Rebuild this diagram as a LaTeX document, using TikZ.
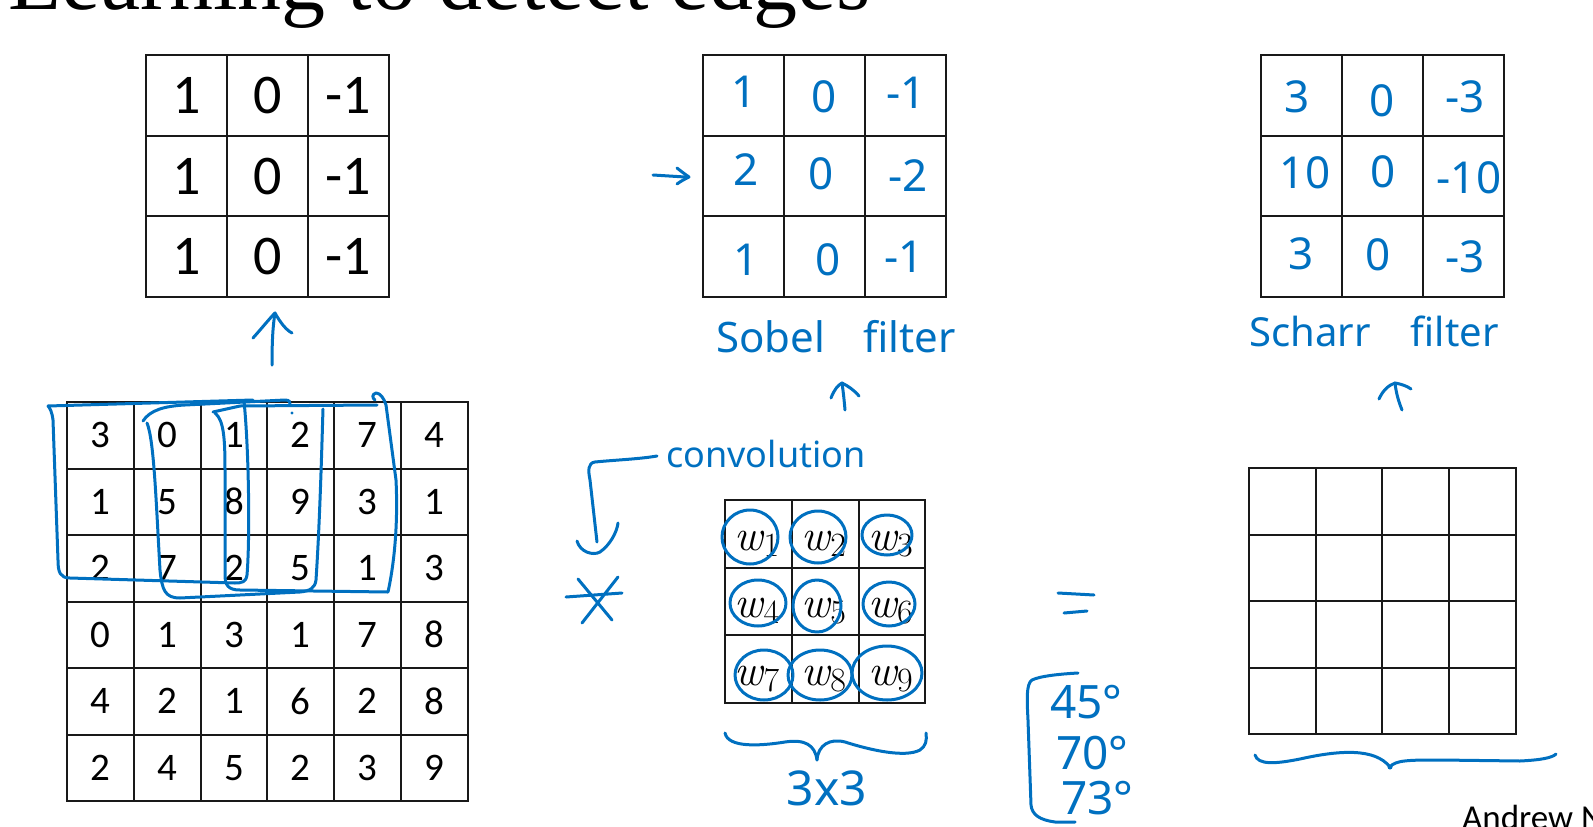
\documentclass[tikz,border=0pt]{standalone}
\usepackage{fontspec}
\setmainfont{Latin Modern Roman}
\newfontfamily\calibri{Carlito}
\newfontfamily\handf{Noto Sans}
\newfontfamily\titlef{Liberation Serif}
\definecolor{pen}{RGB}{0,112,192}
\begin{document}
\begin{tikzpicture}[x=1pt,y=-1pt,
  cellline/.style={line width=2pt, black!90, line cap=rect},
  hand/.style={draw=pen, line width=3pt, line cap=round, line join=round},
  bignum/.style={font=\calibri\fontsize{56}{60}\selectfont, inner sep=0pt},
  num/.style={font=\calibri\fontsize{39}{42}\selectfont, inner sep=0pt},
  hnum/.style={text=pen, font=\handf\fontsize{44}{48}\selectfont, inner sep=0pt},
  htext/.style={text=pen, inner sep=0pt},
  wlab/.style={font=\fontsize{44}{48}\selectfont\itshape, inner sep=0pt}
]
\useasboundingbox (0,0) rectangle (1593,827);
\clip (0,0) rectangle (1593,827);

% title (cut by the top edge)
\node[anchor=base west, font=\titlef\fontsize{88}{90}\selectfont, inner sep=0pt] (title) at (8,9.5) {Learning to detect edges};
% footer (cut)
\node[anchor=base west, font=\calibri\fontsize{35}{38}\selectfont, inner sep=0pt] (author) at (1462,829) {Andrew Ng};

% ---------- vertical edge filter (top left)
\foreach \i in {0,...,3} {
  \draw[cellline] (146+81*\i,55) -- (146+81*\i,297);
  \draw[cellline] (146,55+80.67*\i) -- (389,55+80.67*\i);
}
\foreach \r in {0,1,2} {
  \foreach \v [count=\c from 0] in {1,0,-1} {
    \node[bignum] (v-\r-\c) at (186.5+81*\c,95.5+80.67*\r) {\v};
  }
}
\draw[hand] (272,365) .. controls (272,340) and (273,325) .. (275,313);
\draw[hand] (253,338) .. controls (262,328) and (270,318) .. (275,313) .. controls (280,322) and (286,330) .. (292,333);

% ---------- 6x6 image
\foreach \i in {0,...,6} {
  \draw[cellline] (67+66.8*\i,402) -- (67+66.8*\i,801);
  \draw[cellline] (67,402+66.5*\i) -- (468,402+66.5*\i);
}
\foreach \r/\row in {0/{3,0,1,2,7,4},1/{1,5,8,9,3,1},2/{2,7,2,5,1,3},3/{0,1,3,1,7,8},4/{4,2,1,6,2,8},5/{2,4,5,2,3,9}} {
  \foreach \v [count=\c from 0] in \row {
    \node[num] (m-\r-\c) at (100.4+66.8*\c,435.25+66.5*\r) {\v};
  }
}
% hand-drawn 3x3 windows
\draw[hand] (48,406) -- (253,400);
\draw[hand] (244,401) .. controls (249,450) and (250,540) .. (247,575) .. controls (246,582) and (242,583) .. (235,583) -- (70,578) .. controls (60,578) and (58,572) .. (58,560) -- (53,420) .. controls (52,412) and (50,408) .. (48,406);
\draw[hand] (143,421) .. controls (150,410) and (165,406) .. (185,405) -- (285,400) .. controls (289,400) and (291,402) .. (290,404);
\draw[hand] (147,423) .. controls (154,440) and (156,500) .. (160,570) .. controls (162,590) and (165,598) .. (180,598) -- (300,592) .. controls (310,591) and (315,588) .. (316,580) .. controls (320,520) and (322,440) .. (323,409);
\draw[hand] (213,412) -- (240,406) -- (377,405);
\draw[hand] (215,413) .. controls (224,420) and (225,440) .. (225,470) -- (225,575) .. controls (225,585) and (228,590) .. (240,590) -- (388,592) .. controls (395,560) and (398,520) .. (396,480) -- (386,405) .. controls (384,398) and (380,393) .. (376,393) .. controls (372,394) and (372,398) .. (375,400);
\fill[pen] (292,413) circle[radius=1.6pt];

% ---------- Sobel filter
\foreach \i in {0,...,3} {
  \draw[cellline] (703+81*\i,55) -- (703+81*\i,297);
  \draw[cellline] (703,55+80.67*\i) -- (946,55+80.67*\i);
}
\node[hnum] (s-0-0) at (744,92) {1};
\node[hnum] (s-0-1) at (824,97) {0};
\node[hnum] (s-0-2) at (906,93) {-1};
\node[hnum] (s-1-0) at (746,170) {2};
\node[hnum] (s-1-1) at (821,174) {0};
\node[hnum] (s-1-2) at (908,176) {-2};
\node[hnum] (s-2-0) at (746,260) {1};
\node[hnum] (s-2-1) at (828,260) {0};
\node[hnum] (s-2-2) at (904,257) {-1};
\draw[hand] (653,175) -- (685,177);
\draw[hand] (677,168) .. controls (682,172) and (686,175) .. (689,177) .. controls (685,179) and (681,181) .. (677,184);
\node[htext, anchor=base, font=\handf\fontsize{42}{46}\selectfont] (sobel) at (836,352) {Sobel\hspace{38pt}filter};
\draw[hand] (845,410) .. controls (844,398) and (843,390) .. (842,383);
\draw[hand] (831,398) .. controls (834,390) and (838,385) .. (842,383) .. controls (848,386) and (854,390) .. (859,396);

% ---------- Scharr filter
\foreach \i in {0,...,3} {
  \draw[cellline] (1261+81*\i,55) -- (1261+81*\i,297);
  \draw[cellline] (1261,55+80.67*\i) -- (1504,55+80.67*\i);
}
\node[hnum] (c-0-0) at (1297,97) {3};
\node[hnum] (c-0-1) at (1382,101) {0};
\node[hnum] (c-0-2) at (1465,97) {-3};
\node[hnum] (c-1-0) at (1305,173) {10};
\node[hnum] (c-1-1) at (1383,172) {0};
\node[hnum] (c-1-2) at (1469,178) {-10};
\node[hnum] (c-2-0) at (1301,254) {3};
\node[hnum] (c-2-1) at (1378,255) {0};
\node[hnum] (c-2-2) at (1465,257) {-3};
\node[htext, anchor=base, font=\handf\fontsize{40}{44}\selectfont] (scharr) at (1374,346) {Scharr\hspace{40pt}filter};
\draw[hand] (1402,410) .. controls (1398,400) and (1396,392) .. (1395,383);
\draw[hand] (1379,399) .. controls (1383,390) and (1389,385) .. (1395,383) .. controls (1401,384) and (1407,386) .. (1411,389);

% ---------- convolution operator
\node[htext, anchor=base, font=\handf\fontsize{36}{40}\selectfont] (conv) at (766,467) {convolution};
\coordinate (convstart) at (657,456);
\coordinate (convend) at (597,542);
\draw[hand] (convstart) .. controls (640,459) and (615,460) .. (595,462) .. controls (588,463) and (588,470) .. (590,480) -- (convend);
\draw[hand] (577,541) .. controls (580,552) and (593,556) .. (600,552) .. controls (610,545) and (617,532) .. (618,523);
% asterisk
\draw[hand] (566,597) -- (622,593);
\draw[hand] (578,579) -- (612,620);
\draw[hand] (618,577) -- (582,623);

% ---------- 3x3 weights
\foreach \i in {0,...,3} {
  \draw[cellline] (725+66.8*\i,500) -- (725+66.8*\i,703);
  \draw[cellline] (725,500+67.6*\i) -- (925.4,500+67.6*\i);
}
\foreach \k [count=\n from 0] in {1,...,9} {
  \pgfmathtruncatemacro{\wr}{int(\n/3)}
  \pgfmathtruncatemacro{\wc}{mod(\n,3)}
  \node[wlab, anchor=base] (w\k) at (757+66.8*\wc,550+67.6*\wr) {w\raisebox{-6pt}{\fontsize{34}{36}\selectfont\upshape\k}};
}
\draw[hand] (750,537) ellipse[x radius=28pt, y radius=27pt];
\draw[hand] (818,537) ellipse[x radius=28pt, y radius=26pt];
\draw[hand] (887,535) ellipse[x radius=25pt, y radius=20pt];
\draw[hand] (758,603) ellipse[x radius=28pt, y radius=23pt];
\draw[hand] (817,606) ellipse[x radius=24pt, y radius=26pt];
\draw[hand] (889,604) ellipse[x radius=26pt, y radius=22pt];
\draw[hand] (764,675) ellipse[x radius=29pt, y radius=25pt];
\draw[hand] (820,675) ellipse[x radius=32pt, y radius=25pt];
\draw[hand] (887,673) ellipse[x radius=35pt, y radius=27pt];
% brace and size
\draw[hand] (725,733) .. controls (728,748) and (760,746) .. (785,742) .. controls (805,739) and (815,745) .. (817,760);
\draw[hand] (817,760) .. controls (818,745) and (830,738) .. (845,742) .. controls (870,750) and (905,758) .. (920,750) .. controls (926,746) and (927,740) .. (926,733);
\node[htext, anchor=base, font=\handf\fontsize{48}{52}\selectfont] (size) at (827,805) {3x3};

% ---------- equals and angles
\draw[hand] (1058,593) -- (1094,595);
\draw[hand] (1064,613) -- (1087,611);
\draw[hand] (1078,673) .. controls (1060,674) and (1040,676) .. (1032,680) .. controls (1026,684) and (1027,700) .. (1028,720) -- (1031,805) .. controls (1032,815) and (1040,820) .. (1055,822) -- (1075,822);
\node[htext, anchor=base west, font=\handf\fontsize{46}{50}\selectfont] (a45) at (1050,718) {45°};
\node[htext, anchor=base west, font=\handf\fontsize{46}{50}\selectfont] (a70) at (1056,769) {70°};
\node[htext, anchor=base west, font=\handf\fontsize{46}{50}\selectfont] (a73) at (1061,814) {73°};

% ---------- output 4x4
\foreach \i in {0,...,4} {
  \draw[cellline] (1249+66.7*\i,468) -- (1249+66.7*\i,734);
  \draw[cellline] (1249,468+66.6*\i) -- (1516,468+66.6*\i);
}
\draw[hand] (1255,755) .. controls (1258,765) and (1275,764) .. (1300,759) .. controls (1340,750) and (1375,748) .. (1390,767);
\draw[hand] (1390,767) .. controls (1395,760) and (1410,760) .. (1440,760) -- (1520,761) .. controls (1540,760) and (1552,758) .. (1556,754);
\fill[pen] (1390,767) circle[radius=2.5pt];
\end{tikzpicture}
\end{document}
